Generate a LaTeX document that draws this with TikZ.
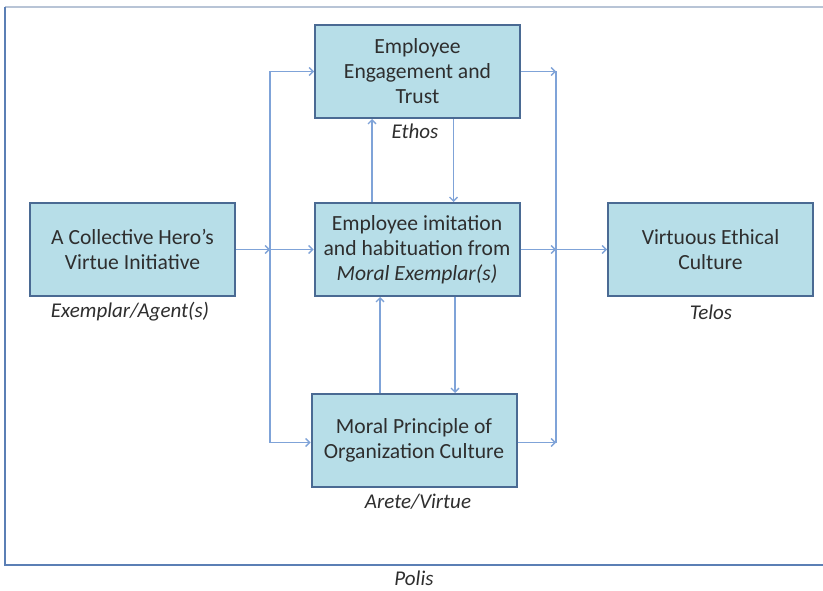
\documentclass[tikz,border=0pt]{standalone}
\usepackage{fontspec}
\setmainfont{Carlito}
\usetikzlibrary{arrows.meta}
\definecolor{boxfill}{HTML}{B7DEE8}
\definecolor{boxline}{HTML}{4A6A93}
\definecolor{arrcol}{HTML}{7FA3D8}
\definecolor{txt}{HTML}{2E2E2E}
\definecolor{frameA}{HTML}{5B7FB5}
\definecolor{frameB}{HTML}{B8C4D6}
\tikzset{
  box/.style={draw=boxline, line width=2pt, fill=boxfill, minimum width=205pt, minimum height=93pt,
    align=center, text=txt, font=\fontsize{21.6}{25}\selectfont, inner sep=0pt},
  lbl/.style={text=txt, font=\fontsize{21}{25}\selectfont\itshape, inner sep=0pt},
  arr/.style={draw=arrcol, line width=1.4pt, -{Straight Barb[length=4pt,width=8pt]}},
  ln/.style={draw=arrcol, line width=1.4pt}
}
\begin{document}
\begin{tikzpicture}[x=1pt,y=-1pt]
\useasboundingbox[fill=white] (0,0) rectangle (823,591);
% frame
\draw[frameB, line width=1.5pt] (5,7) -- (823,7);
\draw[frameA, line width=2pt] (5,7) -- (5,565) -- (823,565);
% boxes
\node[box] (top) at (417.5,71.5) {Employee\\Engagement and\\Trust};
\node[box] (mid) at (417,249.5) {Employee imitation\\and habituation from\\\textit{Moral Exemplar(s)}};
\node[box] (bot) at (414,440.5) {Moral Principle of\\Organization Culture};
\node[box] (left) at (132.5,249.5) {A Collective Hero’s\\Virtue Initiative};
\node[box] (right) at (710.5,249.5) {Virtuous Ethical\\Culture};
% labels
\node[lbl] (l1) at (130,312) {Exemplar/Agent(s)};
\node[lbl] (l2) at (415,131) {Ethos};
\node[lbl] (l3) at (711,312) {Telos};
\node[lbl] (l4) at (418,502) {Arete/Virtue};
\node[lbl] (l5) at (414,578) {Polis};
% split points
\coordinate (sl) at (270,249.5);
\coordinate (sr) at (556,249.5);
% left side
\draw[arr] (left.east) -- (sl);
\draw[arr] (sl) -- (mid.west);
\draw[arr] (sl) |- (top.west);
\draw[arr] (sl) |- ([yshift=-2]bot.west);
% right side
\draw[arr] (top.east) -- (top.east -| sr);
\draw[arr] (mid.east) -- (sr);
\draw[arr] (sr) -- (right.west);
\draw[arr] ([yshift=-2]bot.east) -- ([yshift=-2]bot.east -| sr);
\draw[ln] (top.east -| sr) -- ([yshift=-2]bot.east -| sr);
% vertical links
\draw[arr] ([xshift=-45]mid.north) -- ([xshift=-45]mid.north |- top.south);
\draw[arr] ([xshift=36]top.south) -- ([xshift=36]top.south |- mid.north);
\draw[arr] ([xshift=-34]bot.north) -- ([xshift=-34]bot.north |- mid.south);
\draw[arr] ([xshift=38]mid.south) -- ([xshift=38]mid.south |- bot.north);
\end{tikzpicture}
\end{document}
